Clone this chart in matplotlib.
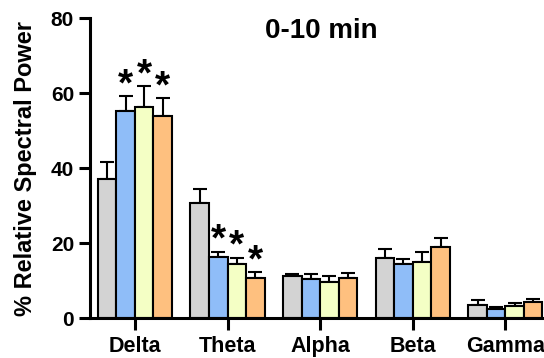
import numpy as np
import matplotlib
matplotlib.use("Agg")
import matplotlib.pyplot as plt

plt.rcParams["font.family"] = ["Liberation Sans", "DejaVu Sans"]
plt.rcParams["font.weight"] = "bold"

bands = ["Delta", "Theta", "Alpha", "Beta", "Gamma"]
groups = ["g1", "g2", "g3", "g4"]
colors = ["#d3d3d3", "#8fbdf8", "#f4ffc5", "#fec07f"]

means = np.array([
    [37.2, 30.6, 11.1, 16.1, 3.6],
    [55.2, 16.3, 10.3, 14.3, 2.5],
    [56.4, 14.3, 9.6, 14.9, 3.3],
    [53.8, 10.8, 10.8, 18.9, 4.3],
])
errs = np.array([
    [4.4, 3.7, 0.7, 2.4, 1.1],
    [3.9, 1.4, 1.5, 1.4, 0.4],
    [5.5, 1.8, 1.7, 2.8, 0.6],
    [4.8, 1.5, 1.3, 2.5, 0.8],
])
# significance markers (group, band)
stars = [(1, 0), (2, 0), (3, 0), (1, 1), (2, 1), (3, 1)]

fig = plt.figure(figsize=(5.44, 3.58), dpi=100)
ax = fig.add_axes([0.1654, 0.1117, 0.847, 0.838])

x = np.arange(len(bands))
w = 0.2
for i in range(len(groups)):
    xi = x + (i - 1.5) * w
    ax.bar(xi, means[i], width=w, color=colors[i], edgecolor="black",
           linewidth=1.5, zorder=2)
    ax.errorbar(xi, means[i], yerr=[np.zeros(len(bands)), errs[i]],
                fmt="none", ecolor="black", elinewidth=1.5, capsize=5,
                capthick=1.5, zorder=1)

for g, b in stars:
    ax.text(b + (g - 1.5) * w, means[g, b] + errs[g, b] + 0.2, "*",
            ha="center", va="baseline", fontsize=28, fontweight="bold")

ax.set_xlim(-0.485, 4.49)
ax.set_ylim(0, 80)
ax.set_yticks([0, 20, 40, 60, 80])
ax.set_xticks(x)
ax.set_xticklabels(bands, fontsize=15.5, fontweight="bold")
ax.tick_params(axis="y", labelsize=15, width=2.2, length=8, pad=3.5)
ax.tick_params(axis="x", width=2.2, length=8.6, pad=4)
for lab in ax.get_yticklabels():
    lab.set_fontweight("bold")
ax.spines["top"].set_visible(False)
ax.spines["right"].set_visible(False)
ax.spines["left"].set_linewidth(2.2)
ax.spines["bottom"].set_linewidth(2.2)
ax.set_ylabel("% Relative Spectral Power", fontsize=17, fontweight="bold",
              va="center")
ax.yaxis.set_label_coords(-0.139, 0.5)
fig.text(321 / 544, 1 - 38 / 358, "0-10 min", ha="center", va="baseline",
         fontsize=20, fontweight="bold")

fig.savefig("out.png", dpi=100)
